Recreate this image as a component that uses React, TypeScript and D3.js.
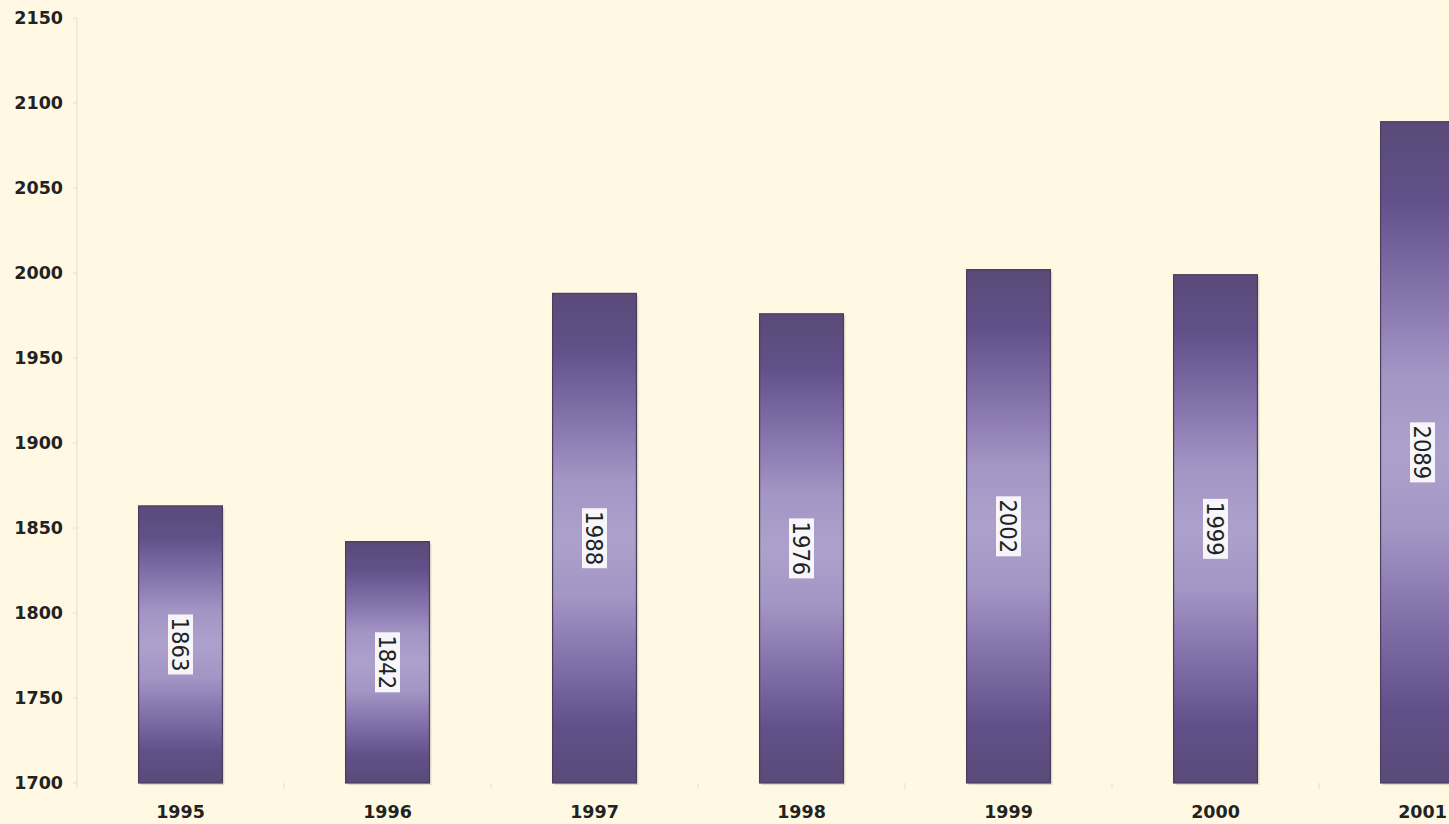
import React from "react";
import * as d3 from "d3";

const years: string[] = ["1995", "1996", "1997", "1998", "1999", "2000", "2001"];
const values: number[] = [1863, 1842, 1988, 1976, 2002, 1999, 2089];
const yTicks: number[] = [1700, 1750, 1800, 1850, 1900, 1950, 2000, 2050, 2100, 2150];

const W = 1449;
const H = 824;

export default function App() {
  const x = d3
    .scaleBand<string>()
    .domain(years)
    .range([77, 77 + 207 * years.length])
    .paddingInner(0.595)
    .paddingOuter(0.2975);
  const y = d3.scaleLinear().domain([1700, 2150]).range([783, 18]);
  const step = x.step();
  const bw = x.bandwidth();
  const boundaries = years.map((yr) => (x(yr) as number) - (step - bw) / 2);

  return (
    <svg
      width={W}
      height={H}
      style={{ position: "absolute", left: 0, top: 0, display: "block" }}
    >
      <defs>
        <linearGradient id="barGrad" x1="0" y1="0" x2="0" y2="1">
          <stop offset="0" stopColor="#594a78" />
          <stop offset="0.12" stopColor="#62518a" />
          <stop offset="0.27" stopColor="#8876af" />
          <stop offset="0.38" stopColor="#a395c4" />
          <stop offset="0.5" stopColor="#ada1cc" />
          <stop offset="0.62" stopColor="#a395c4" />
          <stop offset="0.73" stopColor="#8876af" />
          <stop offset="0.88" stopColor="#62518a" />
          <stop offset="1" stopColor="#594a78" />
        </linearGradient>
      </defs>
      <rect x={0} y={0} width={W} height={H} fill="#fff9e3" />
      <line x1={77} x2={77} y1={y(2150)} y2={y(1700)} stroke="#e6e0c8" strokeWidth={1} />
      {yTicks.map((t) => (
        <g key={t}>
          <line x1={73} x2={77} y1={y(t)} y2={y(t)} stroke="#e6e0c8" />
          <text
            x={63}
            y={y(t)}
            dy="0.36em"
            textAnchor="end"
            fontFamily="DejaVu Sans"
            fontWeight="bold"
            fontSize={17.5}
            fill="#222"
          >
            {t}
          </text>
        </g>
      ))}
      {boundaries.map((b, i) => (
        <line key={i} x1={b} x2={b} y1={783} y2={789} stroke="#e6e0c8" />
      ))}
      {years.map((yr, i) => {
        const bx = x(yr) as number;
        const by = y(values[i]);
        const bh = y(1700) - by;
        const cx = bx + bw / 2;
        const cy = by + bh / 2;
        const labelLen = 58;
        return (
          <g key={yr}>
            <rect x={bx + 2} y={by + 2} width={bw} height={bh} fill="#000" opacity={0.12} />
            <rect
              x={bx}
              y={by}
              width={bw}
              height={bh}
              fill="url(#barGrad)"
              stroke="#4a3e5e"
              strokeWidth={1.2}
            />
            <g transform={`translate(${cx},${cy}) rotate(90)`}>
              <rect
                x={-labelLen / 2 - 1}
                y={-12.5}
                width={labelLen + 2}
                height={25}
                fill="#ffffff"
                opacity={0.9}
              />
              <text
                x={0}
                y={0}
                dy="0.36em"
                textAnchor="middle"
                fontFamily="DejaVu Sans Condensed, DejaVu Sans"
                fontStretch="condensed"
                fontSize={23.5}
                fill="#222"
              >
                {values[i]}
              </text>
            </g>
          </g>
        );
      })}
      {years.map((yr) => (
        <text
          key={yr}
          x={(x(yr) as number) + bw / 2}
          y={818}
          textAnchor="middle"
          fontFamily="DejaVu Sans"
          fontWeight="bold"
          fontSize={17.5}
          fill="#222"
        >
          {yr}
        </text>
      ))}
    </svg>
  );
}
